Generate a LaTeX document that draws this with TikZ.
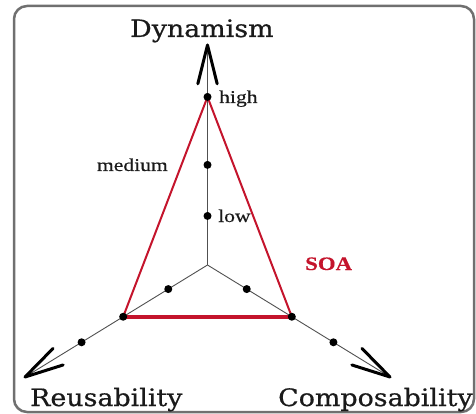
\documentclass[tikz,border=0pt]{standalone}
\usepackage{fontspec}
\setmainfont{Liberation Serif}
\newfontfamily\axisfont[FakeStretch=1.12,FakeBold=0.6]{DejaVu Serif}
\newfontfamily\lblfont[FakeStretch=1.2,FakeBold=0.4]{Liberation Serif}
\usetikzlibrary{calc}
\definecolor{soared}{HTML}{C4142C}
\definecolor{framegray}{HTML}{707070}
\definecolor{axisgray}{HTML}{505050}
\definecolor{txt}{HTML}{1A1A1A}
\begin{document}
\begin{tikzpicture}[x=1pt,y=-1pt,
  axisline/.style={draw=axisgray, line width=0.9pt},
  headline/.style={draw=black, line width=3pt, line cap=round, line join=round},
  dot/.style={circle, fill=black, inner sep=0pt, minimum size=8pt},
  axislabel/.style={inner sep=0pt, text=txt, font=\axisfont\fontsize{24}{24}\selectfont},
  smalllabel/.style={inner sep=0pt, text=txt, font=\lblfont\fontsize{18}{18}\selectfont},
  soalabel/.style={inner sep=0pt, text=soared, font=\lblfont\bfseries\fontsize{19}{19}\selectfont},
  redside/.style={draw=soared, line width=2pt},
  redbase/.style={draw=soared, line width=4pt}
]
\useasboundingbox (0,0) rectangle (476,414);
\draw[framegray, line width=2.5pt, rounded corners=13pt] (14,6) rectangle (474,412);

% axes
\coordinate (O) at (207.5,265);
\coordinate (TD) at (207.5,45);
\coordinate (TR) at (25,377);
\coordinate (TC) at (390,377);

\draw[axisline] (O) -- (TD);
\draw[axisline] (O) -- (TR);
\draw[axisline] (O) -- (TC);

% arrow heads
\draw[headline] ($(TD)!40pt!14:(O)$) -- (TD) -- ($(TD)!40pt!-14:(O)$);
\draw[headline] ($(TR)!40pt!14:(O)$) -- (TR) -- ($(TR)!40pt!-14:(O)$);
\draw[headline] ($(TC)!40pt!14:(O)$) -- (TC) -- ($(TC)!40pt!-14:(O)$);

% scale points
\coordinate (dlow) at ($(O)!0.223!(TD)$);
\coordinate (dmed) at ($(O)!0.455!(TD)$);
\coordinate (dhigh) at ($(O)!0.764!(TD)$);
\coordinate (r1) at ($(O)!0.215!(TR)$);
\coordinate (r2) at ($(O)!0.462!(TR)$);
\coordinate (r3) at ($(O)!0.69!(TR)$);
\coordinate (c1) at ($(O)!0.215!(TC)$);
\coordinate (c2) at ($(O)!0.462!(TC)$);
\coordinate (c3) at ($(O)!0.69!(TC)$);

% SOA triangle
\draw[redside] (dhigh) -- (r2);
\draw[redside] (dhigh) -- (c2);
\draw[redbase] (r2) -- (c2);

\foreach \p in {dlow,dmed,dhigh,r1,r2,r3,c1,c2,c3}
  \node[dot] (n\p) at (\p) {};

% labels
\node[axislabel, anchor=base west] (dyn) at (130,37) {Dynamism};
\node[axislabel, anchor=base west] (reu) at (30,406) {Reusability};
\node[axislabel, anchor=base west] (com) at (278,406) {Composability};
\node[smalllabel, anchor=base west] (high) at (219,103) {high};
\node[smalllabel, anchor=base east] (medium) at (168,171) {medium};
\node[smalllabel, anchor=base west] (low) at (218,222) {low};
\node[soalabel, anchor=base west] (soa) at (305,270) {SOA};
\end{tikzpicture}
\end{document}
